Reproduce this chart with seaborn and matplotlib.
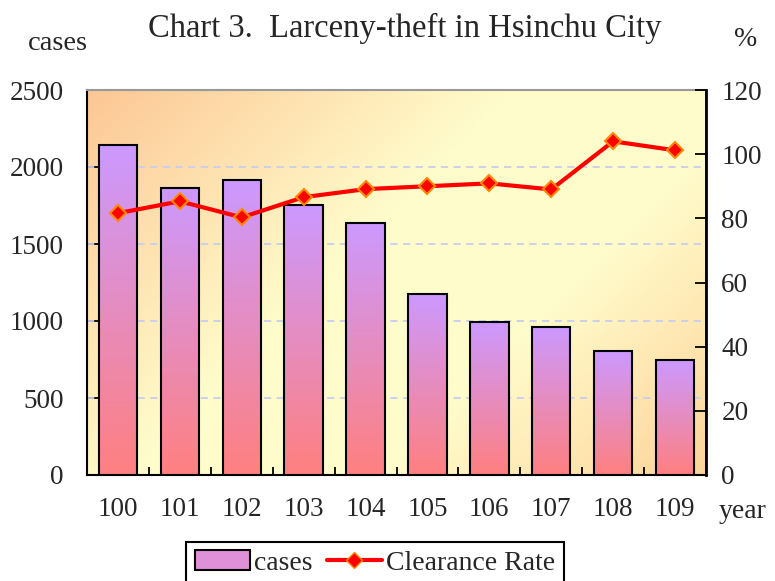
import matplotlib
matplotlib.use("Agg")
import matplotlib.pyplot as plt
import seaborn as sns
import numpy as np
import pandas as pd
from matplotlib.colors import to_rgb
from matplotlib.patches import Patch
from matplotlib.lines import Line2D

years = ["100", "101", "102", "103", "104", "105", "106", "107", "108", "109"]
cases = [2140, 1862, 1914, 1752, 1634, 1176, 995, 961, 804, 745]
clearance_rate = [81.6, 85.3, 80.3, 86.6, 89.1, 90.0, 90.9, 89.0, 104.0, 101.2]

sns.set_theme(style="white")
plt.rcParams['font.family'] = ['Liberation Serif', 'DejaVu Serif']
FS = 19.5

df = pd.DataFrame({"year": years, "cases": cases, "rate": clearance_rate})

fig = plt.figure(figsize=(7.75, 5.81), dpi=100)
ax = fig.add_axes([87 / 775, 1 - 475 / 581, (706 - 87) / 775, (475 - 90) / 581])

# background: diagonal gradient orange -> pale yellow -> light orange
u, v = np.meshgrid(np.linspace(0, 1, 400), np.linspace(0, 1, 300))
d = (u * 619 + v * 385) / (619 + 385)
c_tl = np.array(to_rgb("#FCC794"))
c_mid = np.array(to_rgb("#FFFCCB"))
c_br = np.array(to_rgb("#FDD29A"))
t1 = np.clip(d / 0.42, 0, 1)[..., None]
t2 = np.clip((d - 0.68) / 0.32, 0, 1)[..., None]
bg = c_tl * (1 - t1) + c_mid * t1
bg = bg * (1 - t2) + c_br * t2
ax.imshow(bg, extent=[0, 1, 0, 1], transform=ax.transAxes, aspect="auto", zorder=0)

sns.barplot(data=df, x="year", y="cases", ax=ax, width=0.62, fill=True,
            color="white", edgecolor="black", linewidth=1.5, zorder=3)

# gradient fill inside each bar
top_c = np.array(to_rgb("#CC99FF"))
bot_c = np.array(to_rgb("#FF8080"))
grad = np.linspace(0, 1, 200)[:, None]
grad_img = top_c[None, None, :] * (1 - grad[..., None]) + bot_c[None, None, :] * grad[..., None]
for p in ax.patches:
    x0, y0 = p.get_x(), p.get_y()
    w, h = p.get_width(), p.get_height()
    im = ax.imshow(grad_img, extent=[x0, x0 + w, y0, y0 + h], aspect="auto", zorder=3.5)
    im.set_clip_path(p)
    p.set_facecolor("none")
    p.set_zorder(4)

ax.set_xlim(-0.5, 9.5)
ax.set_ylim(0, 2500)
ax.set_yticks(range(0, 2501, 500))
for yv in range(500, 2001, 500):
    ax.axhline(yv, color="#C8CDF0", linestyle=(0, (4, 3)), linewidth=1.3, zorder=1)
ax.set_xlabel("")
ax.set_ylabel("")
ax.set_xticks(range(10))
ax.set_xticklabels(years, fontsize=FS)
ax.set_xticks(np.arange(0.5, 9.5, 1), minor=True)
ax.tick_params(axis="x", which="major", length=0, pad=16)
ax.tick_params(axis="x", which="minor", direction="in", length=6, width=1.3, color="black", bottom=True)
ax.tick_params(axis="y", direction="in", length=8, width=1.3, color="black", left=True, labelsize=FS, pad=17)
for s in ["left", "bottom"]:
    ax.spines[s].set_color("black")
    ax.spines[s].set_linewidth(1.5)
ax.spines["top"].set_color("#999999")
ax.spines["top"].set_linewidth(1.5)

ax2 = ax.twinx()
sns.lineplot(data=df, x="year", y="rate", ax=ax2, color="red", linewidth=3,
             marker="D", markersize=8, markerfacecolor="red", markeredgecolor="#FF8800",
             markeredgewidth=1.5, zorder=5)
ax2.set_ylim(0, 120)
ax2.set_yticks(range(0, 121, 20))
ax2.set_xlim(-0.5, 9.5)
ax2.set_ylabel("")
ax2.set_xlabel("")
ax2.grid(False)
ax2.tick_params(axis="y", direction="in", length=8, width=1.3, color="black", right=True, labelsize=FS, pad=11)
ax2.spines["right"].set_color("black")
ax2.spines["right"].set_linewidth(2)
ax2.spines["top"].set_visible(False)
ax2.spines["left"].set_visible(False)
ax2.spines["bottom"].set_visible(False)

fig.text(405 / 775, 1 - 28 / 581, "Chart 3.  Larceny-theft in Hsinchu City", ha="center", va="center", fontsize=23.5)
fig.text(58 / 775, 1 - 43 / 581, "cases", ha="center", va="center", fontsize=20.5)
fig.text(746 / 775, 1 - 40 / 581, "%", ha="center", va="center", fontsize=20)
fig.text(743 / 775, 1 - 511 / 581, "year", ha="center", va="center", fontsize=20)

handles = [Patch(facecolor="#E090D8", edgecolor="black", linewidth=1.5),
           Line2D([0], [0], color="red", linewidth=3, marker="D", markersize=8,
                  markerfacecolor="red", markeredgecolor="#FF8800")]
leg = fig.legend(handles, ["cases", "Clearance Rate"], loc="upper center",
                 bbox_to_anchor=(375 / 775, 1 - 542 / 581), ncol=2, fontsize=20,
                 frameon=True, fancybox=False, edgecolor="black", framealpha=1,
                 handlelength=2.0, handletextpad=0.15, columnspacing=0.5,
                 borderpad=0.3, borderaxespad=0)
leg.get_frame().set_linewidth(1.5)

fig.savefig("out.png", dpi=100)
